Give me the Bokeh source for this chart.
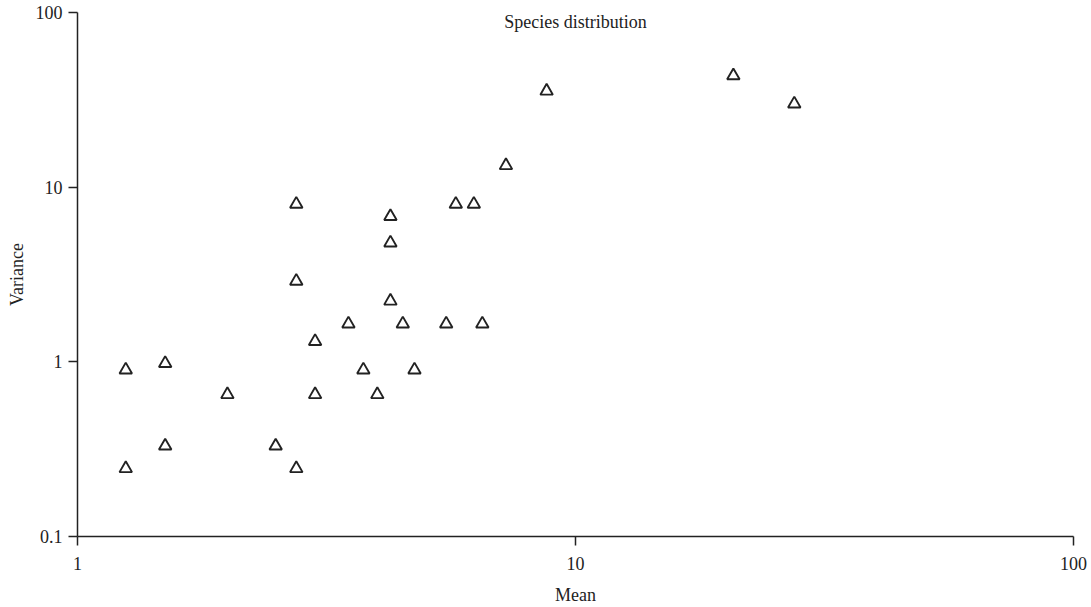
from bokeh.plotting import figure
from bokeh.models import FixedTicker, BasicTickFormatter, Label
from bokeh.embed import file_html
from bokeh.resources import INLINE

# Data
mean = [1.25, 1.25, 1.5, 1.5, 2.0, 2.5, 2.75, 2.75, 2.75, 3.0, 3.0, 3.5, 3.75,
        4.0, 4.25, 4.25, 4.25, 4.5, 4.75, 5.5, 5.75, 6.25, 6.5, 7.25, 8.75,
        20.75, 27.5]
variance = [0.9, 0.245, 0.98, 0.33, 0.65, 0.33, 0.245, 8.0, 2.9, 1.31, 0.65,
            1.65, 0.9, 0.65, 6.8, 4.8, 2.23, 1.65, 0.9, 1.65, 8.0, 8.0, 1.65,
            13.3, 35.5, 43.5, 30.0]
x_ticks = [1, 10, 100]
y_ticks = [0.1, 1, 10, 100]
title_text = "Species distribution"
x_label = "Mean"
y_label = "Variance"

FONT = "Liberation Serif"
INK = "#222222"

p = figure(width=1091, height=607, x_axis_type="log", y_axis_type="log",
           x_range=(1, 100), y_range=(0.1, 100),
           output_backend="svg", toolbar_location=None,
           min_border_left=77, min_border_right=18,
           min_border_top=12, min_border_bottom=71)
p.outline_line_color = None
p.grid.visible = False
p.background_fill_color = "white"
p.border_fill_color = "white"

for ax, ticks, lab in ((p.xaxis[0], x_ticks, x_label), (p.yaxis[0], y_ticks, y_label)):
    ax.ticker = FixedTicker(ticks=ticks, minor_ticks=[])
    ax.formatter = BasicTickFormatter(use_scientific=False)
    ax.axis_label = lab
    ax.axis_label_text_font = FONT
    ax.axis_label_text_font_size = "18px"
    ax.axis_label_text_font_style = "normal"
    ax.axis_label_text_color = INK
    ax.major_label_text_font = FONT
    ax.major_label_text_font_size = "18px"
    ax.major_label_text_color = INK
    ax.axis_line_color = INK
    ax.axis_line_width = 1.5
    ax.major_tick_line_color = INK
    ax.major_tick_line_width = 1.5
    ax.major_tick_out = 9
    ax.major_tick_in = 0
    ax.minor_tick_line_color = None

p.xaxis.major_label_standoff = 11
p.xaxis.axis_label_standoff = 12
p.yaxis.major_label_standoff = 6
p.yaxis.axis_label_standoff = 6

p.scatter(mean, variance, marker="triangle", size=12.5,
          fill_color=None, line_color=INK, line_width=1.9)

title = Label(x=10, y=88, text=title_text, text_font=FONT,
              text_font_size="18px", text_color=INK,
              text_align="center", text_baseline="middle")
p.add_layout(title)

open("out.html", "w").write(file_html(p, INLINE))
